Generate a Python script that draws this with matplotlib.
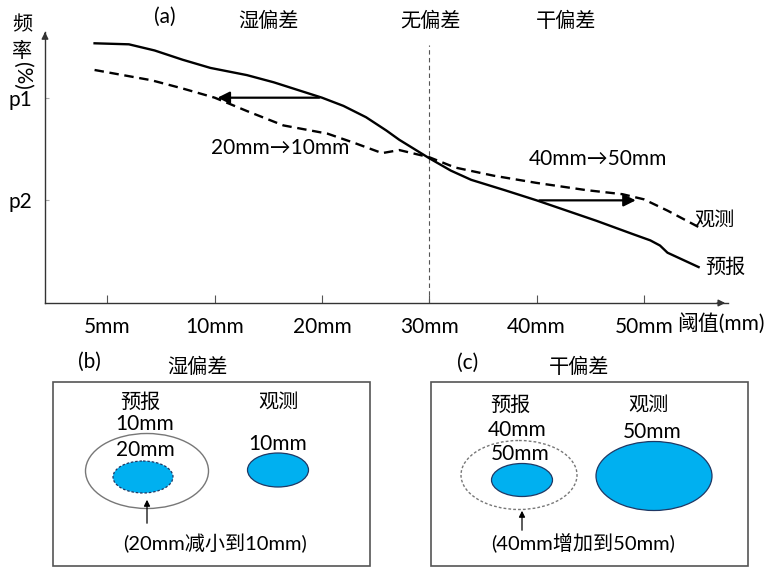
import matplotlib.pyplot as plt
from matplotlib.patches import Ellipse, Rectangle

plt.rcParams['font.family'] = ['Lato', 'Noto Sans CJK SC', 'DejaVu Sans']

# 阈值刻度
thresholds = ['5mm', '10mm', '20mm', '30mm', '40mm', '50mm']
p_ticks = [1, 2]
p_labels = ['p2', 'p1']

# 预报曲线 (实线)
fc_x = [-0.12, 0.2, 0.44, 0.7, 0.96, 1.3, 1.55, 1.70, 2.0, 2.2, 2.41, 2.6, 2.72, 3.0, 3.2, 3.39, 3.7, 4.0,
        4.56, 4.9, 5.06, 5.15, 5.22, 5.51]
fc_y = [2.53, 2.52, 2.46, 2.37, 2.29, 2.22, 2.15, 2.10, 2.0, 1.92, 1.81, 1.68, 1.59, 1.41, 1.29, 1.20, 1.10, 1.0,
        0.80, 0.67, 0.61, 0.56, 0.49, 0.35]

# 观测曲线 (虚线)
ob_x = [-0.12, 0.41, 0.7, 1.0, 1.3, 1.64, 2.05, 2.3, 2.56, 2.72, 3.0, 3.24, 3.6, 4.0, 4.46, 4.8, 5.0, 5.22, 5.51]
ob_y = [2.27, 2.17, 2.09, 2.0, 1.87, 1.73, 1.65, 1.56, 1.46, 1.49, 1.42, 1.32, 1.24, 1.17, 1.10, 1.06, 1.01, 0.90, 0.74]

W, H = 766, 568
fig = plt.figure(figsize=(W / 100, H / 100), dpi=100)

# 背景坐标系 (像素坐标), 用于 (b)(c) 示意图和文字
bg = fig.add_axes([0, 0, 1, 1])
bg.set_xlim(0, W)
bg.set_ylim(H, 0)
bg.axis('off')

LAT = 15
CJK = 14.5

# ---------------- (a) ----------------
ax = fig.add_axes([45 / W, (H - 303) / H, (728 - 45) / W, (303 - 32) / H])
ax.set_facecolor('none')
ax.set_xlim(-0.582, 5.784)
ax.set_ylim(0, 2.64)
for s in ['top', 'right']:
    ax.spines[s].set_visible(False)
for s in ['left', 'bottom']:
    ax.spines[s].set_color('#333333')
    ax.spines[s].set_linewidth(1.0)
ax.annotate('', xy=(0, 1.0), xytext=(0, 0.98), xycoords='axes fraction',
            arrowprops=dict(arrowstyle='-|>', color='#333333', lw=1, mutation_scale=10))
ax.annotate('', xy=(1.0, 0), xytext=(0.98, 0), xycoords='axes fraction',
            arrowprops=dict(arrowstyle='-|>', color='#333333', lw=1, mutation_scale=10))

ax.set_xticks(range(len(thresholds)))
ax.set_xticklabels(thresholds, fontsize=LAT)
ax.tick_params(axis='x', direction='in', length=6, width=0.8, color='#555555', pad=10)
ax.set_yticks(p_ticks)
ax.set_yticklabels(p_labels, fontsize=LAT)
ax.tick_params(axis='y', direction='in', length=3, width=0.8, color='#aaaaaa', pad=9)

ax.vlines(3, 0, 2.51, colors='#555555', linestyles=(0, (4, 3)), lw=0.8)
ax.plot(fc_x, fc_y, color='black', lw=1.7)
ax.plot(ob_x, ob_y, color='black', lw=1.7, linestyle=(0, (4, 2.4)))

ax.annotate('', xy=(1.0, 2.0), xytext=(2.0, 2.0),
            arrowprops=dict(arrowstyle='-|>', color='black', lw=1.6, mutation_scale=18))
ax.annotate('', xy=(4.95, 1.0), xytext=(4.0, 1.0),
            arrowprops=dict(arrowstyle='-|>', color='black', lw=1.6, mutation_scale=18))

bg.text(280, 148, '20mm→10mm', fontsize=LAT, ha='center', va='center')
bg.text(598, 159, '40mm→50mm', fontsize=LAT, ha='center', va='center')
bg.text(714, 220, '观测', fontsize=CJK, ha='center', va='center')
bg.text(725, 267, '预报', fontsize=CJK, ha='center', va='center')
bg.text(721, 323, '阈值(mm)', fontsize=LAT, ha='center', va='center')

bg.text(165, 17, '(a)', fontsize=LAT, ha='center', va='center')
bg.text(268, 20, '湿偏差', fontsize=CJK, ha='center', va='center')
bg.text(430, 20, '无偏差', fontsize=CJK, ha='center', va='center')
bg.text(566, 20, '干偏差', fontsize=CJK, ha='center', va='center')
bg.text(22, 24, '频', fontsize=CJK, ha='center', va='center')
bg.text(22, 50, '率', fontsize=CJK, ha='center', va='center')
bg.text(22, 76, '(%)', fontsize=LAT, ha='center', va='center', rotation=-90)

# ---------------- (b) (c) ----------------
blue = '#00B0F0'
edge = '#1F3864'

# (b) 湿偏差
bg.add_patch(Rectangle((53, 382), 317, 184, fill=False, ec='#555555', lw=1.2))
bg.text(89, 362, '(b)', fontsize=LAT, ha='center', va='center')
bg.text(197, 366, '湿偏差', fontsize=CJK, ha='center', va='center')
bg.text(140, 402, '预报', fontsize=CJK, ha='center', va='center')
bg.text(278, 402, '观测', fontsize=CJK, ha='center', va='center')
bg.text(145, 424, '10mm', fontsize=LAT, ha='center', va='center')
bg.text(145, 450, '20mm', fontsize=LAT, ha='center', va='center')
bg.text(278, 444, '10mm', fontsize=LAT, ha='center', va='center')
bg.add_patch(Ellipse((147, 471), 123, 75, fill=False, ec='#777777', lw=1.0))
bg.add_patch(Ellipse((143, 477), 60, 32, fc=blue, ec=edge, lw=0.9, ls=(0, (2, 1.5))))
bg.add_patch(Ellipse((278, 470), 61, 34, fc=blue, ec=edge, lw=0.9))
bg.annotate('', xy=(147, 497), xytext=(147, 526),
            arrowprops=dict(arrowstyle='-|>', color='black', lw=0.9, mutation_scale=9))
bg.text(215, 543, '(20mm减小到10mm)', fontsize=14.5, ha='center', va='center')

# (c) 干偏差
bg.add_patch(Rectangle((431, 382), 317, 184, fill=False, ec='#555555', lw=1.2))
bg.text(468, 363, '(c)', fontsize=LAT, ha='center', va='center')
bg.text(579, 366, '干偏差', fontsize=CJK, ha='center', va='center')
bg.text(510, 405, '预报', fontsize=CJK, ha='center', va='center')
bg.text(648, 405, '观测', fontsize=CJK, ha='center', va='center')
bg.text(517, 430, '40mm', fontsize=LAT, ha='center', va='center')
bg.text(520, 454, '50mm', fontsize=LAT, ha='center', va='center')
bg.text(652, 432, '50mm', fontsize=LAT, ha='center', va='center')
bg.add_patch(Ellipse((519, 475), 116, 69, fill=False, ec='#777777', lw=1.0, ls=(0, (2, 1.5))))
bg.add_patch(Ellipse((522, 480), 61, 33, fc=blue, ec=edge, lw=0.9))
bg.add_patch(Ellipse((654, 476), 116, 69, fc=blue, ec=edge, lw=0.9))
bg.annotate('', xy=(522, 508), xytext=(522, 533),
            arrowprops=dict(arrowstyle='-|>', color='black', lw=0.9, mutation_scale=9))
bg.text(583, 543, '(40mm增加到50mm)', fontsize=14.5, ha='center', va='center')

fig.savefig('out.png', dpi=100)
